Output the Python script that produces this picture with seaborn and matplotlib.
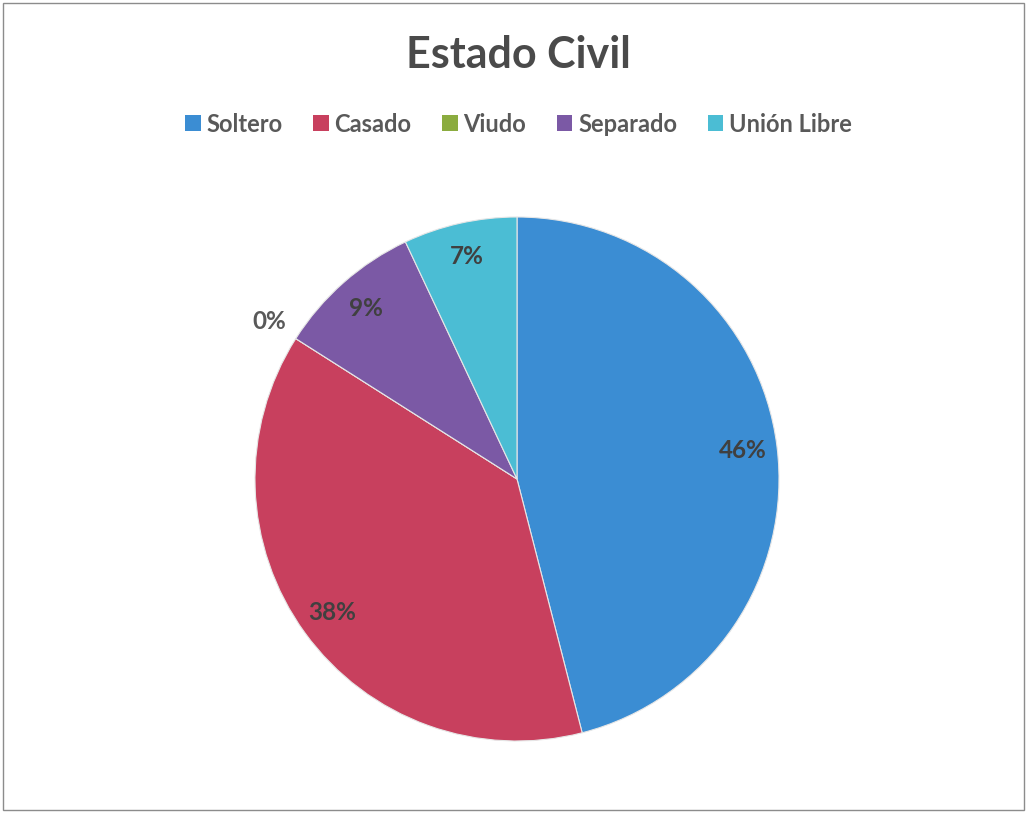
import matplotlib
matplotlib.use("Agg")
import matplotlib.pyplot as plt
from matplotlib.patches import Patch, Rectangle
import seaborn as sns

# data
categories = ["Soltero", "Casado", "Viudo", "Separado", "Unión Libre"]
values = [46, 38, 0, 9, 7]
colors = ["#3b8dd3", "#c8405e", "#8bac3f", "#7b59a5", "#4bbdd4"]

sns.set_theme(style="white")
plt.rcParams["font.family"] = ["Lato", "DejaVu Sans"]

fig = plt.figure(figsize=(10.27, 8.13), dpi=100)
fig.patch.set_facecolor("white")

# pie axes, centred on the chart area
cx, cy, r = 517, 813 - 479, 262
half = r * 1.25
ax = fig.add_axes([(cx - half) / 1027, (cy - half) / 813, 2 * half / 1027, 2 * half / 813])

wedges, texts, autotexts = ax.pie(
    values,
    colors=colors,
    startangle=90,
    counterclock=False,
    autopct="%1.0f%%",
    pctdistance=0.87,
    wedgeprops=dict(edgecolor="#e6e6e6", linewidth=0.8),
    textprops=dict(fontsize=17.5, fontweight="bold", color="#404040"),
)
ax.set_xlim(-1.25, 1.25)
ax.set_ylim(-1.25, 1.25)
ax.set_aspect("equal")
ax.axis("off")

# zero slice label sits outside the pie
for v, t in zip(values, autotexts):
    if v == 0:
        x, y = t.get_position()
        t.set_position((x * 1.12 / 0.87, y * 1.12 / 0.87))
        t.set_color("#595959")

fig.text(0.505, 1 - 55 / 813, "Estado Civil", ha="center", va="center",
         fontsize=31, fontweight="bold", color="#4a4a4a")

handles = [Patch(facecolor=c, edgecolor="none") for c in colors]
fig.legend(
    handles, categories,
    loc="center", bbox_to_anchor=(0.505, 1 - 124 / 813),
    ncol=5, frameon=False,
    handlelength=0.65, handleheight=0.65, handletextpad=0.25,
    columnspacing=1.3,
    prop=dict(size=17, weight="bold"),
    labelcolor="#595959",
)

# outer chart border
fig.add_artist(Rectangle((3 / 1027, 3 / 813), 1 - 6 / 1027, 1 - 6 / 813,
                         transform=fig.transFigure, fill=False,
                         edgecolor="#8c8c8c", linewidth=1))

fig.savefig("out.png", dpi=100)
plt.close(fig)
